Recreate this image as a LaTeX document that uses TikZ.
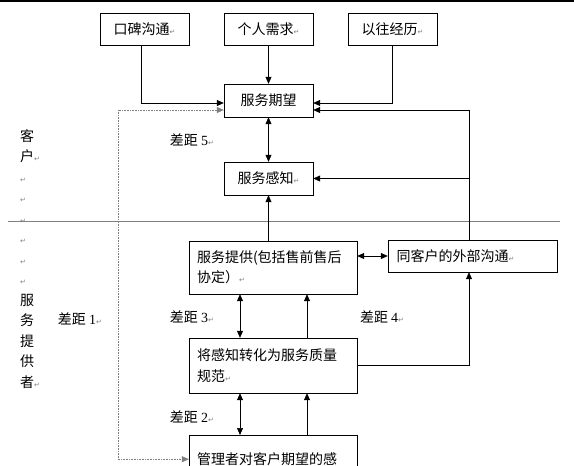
\documentclass[tikz,border=0pt]{standalone}
\usepackage{fontspec}
\setmainfont{Liberation Serif}
\newfontfamily\cjk{Noto Sans CJK SC}
\newfontfamily\symfont{DejaVu Sans}
\usetikzlibrary{arrows.meta,positioning}
\newcommand{\pmark}{{\symfont\color{gray}\fontsize{7}{7}\selectfont ↵}}

\begin{document}
\begin{tikzpicture}[x=1pt, y=-1pt,
    box/.style={draw, minimum width=89pt, minimum height=32pt, inner sep=0pt, font=\cjk\fontsize{14}{20.5}\selectfont},
    wbox/.style={box, minimum width=168pt, minimum height=53pt, text width=152pt, align=left},
    lbl/.style={inner sep=0pt, font=\cjk\fontsize{14}{20.5}\selectfont},
    arr/.style={-{Triangle[length=7pt,width=6pt]}, semithick},
    darr/.style={{Triangle[length=7pt,width=6pt]}-{Triangle[length=7pt,width=6pt]}, semithick}
]
\useasboundingbox (0,0) rectangle (574,466);
\draw[line width=1.5pt] (0,0.75) -- (574,0.75);
\node[box] (wom) at (144.5,29) {口碑沟通\pmark};
\node[box] (need) at (268.5,29) {个人需求\pmark};
\node[box] (past) at (392.5,29) {以往经历\pmark};
\node[box, minimum height=33pt] (exp) at (268.5,100.5) {服务期望};
\node[box, minimum height=33pt] (perc) at (268.5,178.5) {服务感知\pmark};
\node[wbox] (deliv) at (273,267.5) {服务提供(包括售前售后\\协定）\pmark};
\node[box, minimum width=169pt, text width=152pt, align=left] (ext) at (472.5,256) {同客户的外部沟通\pmark};
\node[wbox, minimum height=55pt] (spec) at (273,365.5) {将感知转化为服务质量\\规范\pmark};
\node[wbox, anchor=north, minimum height=48pt] (mgmt) at (273,435) {管理者对客户期望的感};
% customer / provider side
\draw[gray] (8,221) -- (560,221);
\node[lbl, align=left, anchor=west] (side) at (20,259) {客\\户\pmark\\\pmark\\\pmark\\\pmark\\\pmark\\\pmark\\\pmark\\服\\务\\提\\供\\者\pmark};
\node[lbl] (g1) at (80,319) {差距 {\rmfamily 1}\pmark};
\node[lbl] (g2) at (192,417) {差距 {\rmfamily 2}\pmark};
\node[lbl] (g3) at (192,317) {差距 {\rmfamily 3}\pmark};
\node[lbl] (g4) at (382,317) {差距 {\rmfamily 4}\pmark};
\node[lbl] (g5) at (192,140) {差距 {\rmfamily 5}\pmark};
\coordinate (bus) at ([xshift=-3.5pt]ext.north);
\coordinate (gap1) at (118,110);
\draw[arr] ([xshift=-3.5pt]wom.south) |- ([yshift=-2.5pt]exp.west);
\draw[arr] (need) -- (exp);
\draw[arr] (past.south) |- ([yshift=-2.5pt]exp.east);
\draw[arr] (bus) |- ([yshift=-9.5pt]exp.east);
\draw[arr] (bus |- perc.east) -- (perc.east);
\draw[darr] (exp) -- (perc);
\draw[arr] (perc.south |- deliv.north) -- (perc.south);
\draw[darr] (deliv.east |- ext.west) -- (ext.west);
\draw[darr] ([xshift=-33pt]deliv.south) -- ([xshift=-33pt]spec.north);
\draw[arr] ([xshift=34pt]spec.north) -- ([xshift=34pt]deliv.south);
\draw[arr] (spec.east) -| (bus |- ext.south);
\draw[darr] ([xshift=-33pt]spec.south) -- ([xshift=-33pt]mgmt.north);
\draw[arr] ([xshift=34pt]mgmt.north) -- ([xshift=34pt]spec.south);
\draw[darr, gray, densely dotted] ([yshift=-9.5pt]exp.west) -- (gap1) |- (mgmt.west);
\end{tikzpicture}
\end{document}
